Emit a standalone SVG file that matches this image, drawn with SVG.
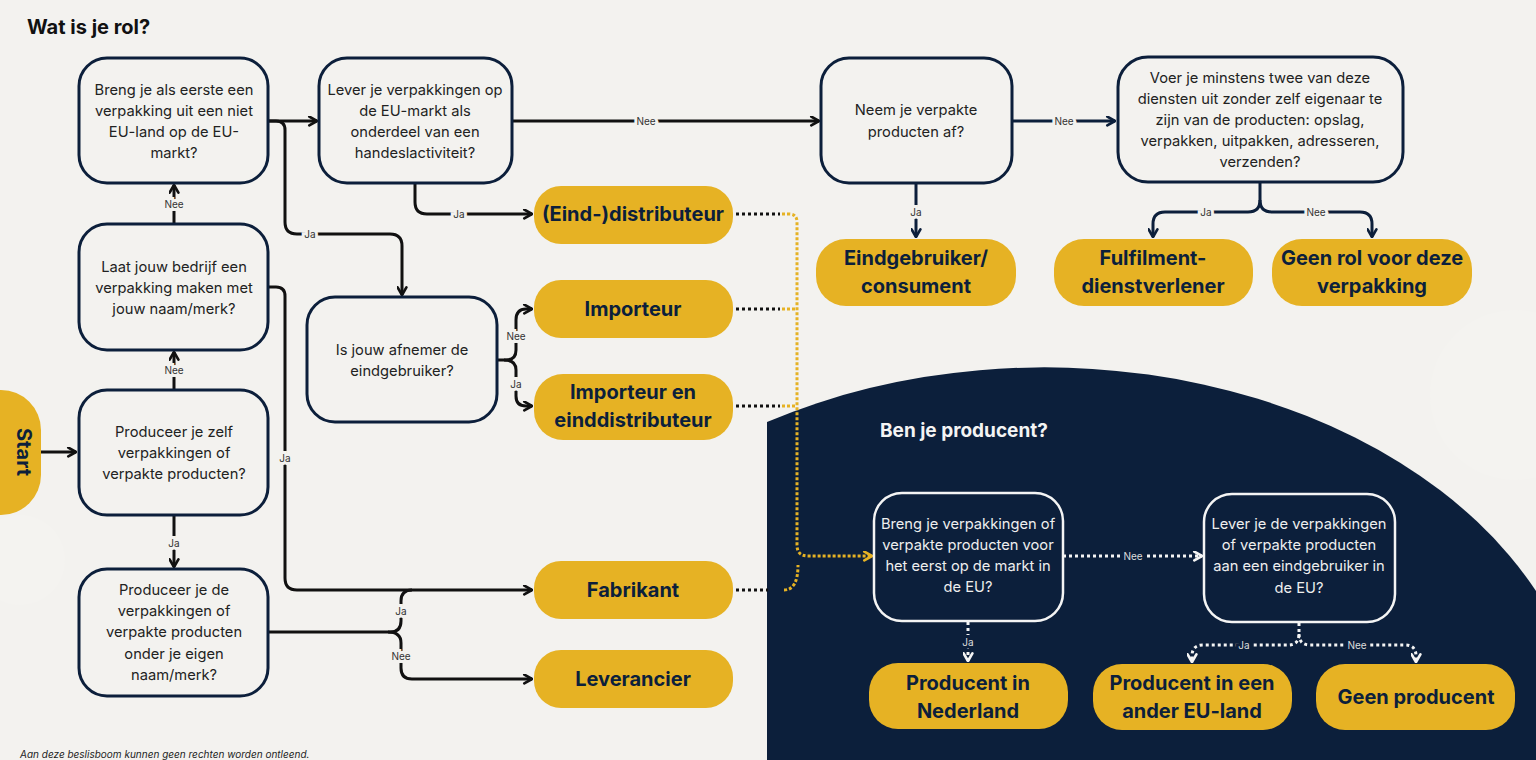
<svg xmlns="http://www.w3.org/2000/svg" width="1536" height="760" viewBox="0 0 1536 760">
<style>
text{font-family:Inter,"Noto Sans","Liberation Sans",sans-serif;}
.q{fill:#f3f2ef;stroke:#0c1f3b;stroke-width:3;}
.qd{fill:#0c1f3b;stroke:#f4f4f4;stroke-width:2.5;}
.qt{font-size:14.7px;fill:#222;text-anchor:middle;dominant-baseline:central;}
.qtd{font-size:14.7px;fill:#eeeeee;text-anchor:middle;dominant-baseline:central;}
.p{fill:#e6b224;}
.pt{font-size:20px;font-weight:700;fill:#0c1f3b;text-anchor:middle;dominant-baseline:central;}
.c{fill:none;stroke:#111;stroke-width:3;}
.cn{fill:none;stroke:#0c1f3b;stroke-width:3;}
.dk{fill:none;stroke:#111;stroke-width:3;stroke-dasharray:3 3;}
.dy{fill:none;stroke:#e6b224;stroke-width:3;stroke-dasharray:3 2;}
.dw{fill:none;stroke:#f4f4f4;stroke-width:3;stroke-dasharray:3 3;}
.l{font-size:10px;fill:#333;text-anchor:middle;dominant-baseline:central;paint-order:stroke;stroke:#f3f2ef;stroke-width:6px;}
.ld{font-size:10px;fill:#dddddd;text-anchor:middle;dominant-baseline:central;paint-order:stroke;stroke:#0c1f3b;stroke-width:6px;}
</style>
<defs>
<marker id="ak" viewBox="0 0 10 10" refX="9" refY="5" markerWidth="11" markerHeight="11" markerUnits="userSpaceOnUse" orient="auto"><path d="M2,1 L9,5 L2,9" fill="none" stroke="#111" stroke-width="2.4" stroke-linecap="round" stroke-linejoin="round"/></marker>
<marker id="an" viewBox="0 0 10 10" refX="9" refY="5" markerWidth="11" markerHeight="11" markerUnits="userSpaceOnUse" orient="auto"><path d="M2,1 L9,5 L2,9" fill="none" stroke="#0c1f3b" stroke-width="2.4" stroke-linecap="round" stroke-linejoin="round"/></marker>
<marker id="ay" viewBox="0 0 10 10" refX="9" refY="5" markerWidth="11" markerHeight="11" markerUnits="userSpaceOnUse" orient="auto"><path d="M2,1 L9,5 L2,9" fill="none" stroke="#e6b224" stroke-width="2.4" stroke-linecap="round" stroke-linejoin="round"/></marker>
<marker id="aw" viewBox="0 0 10 10" refX="9" refY="5" markerWidth="11" markerHeight="11" markerUnits="userSpaceOnUse" orient="auto"><path d="M2,1 L9,5 L2,9" fill="none" stroke="#f4f4f4" stroke-width="2.4" stroke-linecap="round" stroke-linejoin="round"/></marker>
</defs>

<rect x="0" y="0" width="1536" height="760" fill="#f3f2ef"/>
<circle cx="1515" cy="395" r="85" fill="#f4f3f0"/>
<circle cx="20" cy="560" r="45" fill="#f4f3f0"/>
<path d="M767,422 A545,393 0 0 1 1536,591 L1536,760 L767,760 Z" fill="#0c1f3b"/>

<text x="27" y="27" font-size="20" font-weight="700" fill="#111" dominant-baseline="central">Wat is je rol?</text>
<text x="20" y="754" font-size="10" font-style="italic" fill="#222" dominant-baseline="central">Aan deze beslisboom kunnen geen rechten worden ontleend.</text>
<text x="880" y="430" font-size="19" font-weight="700" fill="#f4f4f4" dominant-baseline="central">Ben je producent?</text>

<g id="connectors">
<path class="c" d="M41,452 H76" marker-end="url(#ak)"/>
<path class="c" d="M174,390 V352" marker-end="url(#ak)"/>
<path class="c" d="M174,224 V185" marker-end="url(#ak)"/>
<path class="c" d="M174,515 V567" marker-end="url(#ak)"/>
<path class="c" d="M268,121 H317" marker-end="url(#ak)"/>
<path class="c" d="M268,121 H276 Q285,121 285,130 V222 Q285,234 297,234 H390 Q402,234 402,246 V295" marker-end="url(#ak)"/>
<path class="c" d="M512,121 H819" marker-end="url(#ak)"/>
<path class="c" d="M415,183 V202 Q415,214 427,214 H532" marker-end="url(#ak)"/>
<path class="c" d="M268,287 H276 Q285,287 285,296 V578 Q285,590 297,590 H532" marker-end="url(#ak)"/>
<path class="c" d="M268,632 H390 Q401,632 401,621 V601 Q401,590 412,590"/>
<path class="c" d="M388,632 Q401,632 401,643 V668 Q401,679 412,679 H532" marker-end="url(#ak)"/>
<path class="c" d="M497,360 H506 Q516,360 516,350 V320 Q516,309 526,309 H532" marker-end="url(#ak)"/>
<path class="c" d="M504,360 Q516,360 516,370 V396 Q516,406 526,406 H532" marker-end="url(#ak)"/>
<path class="cn" d="M1012,121 H1115" marker-end="url(#an)"/>
<path class="cn" d="M916,183 V237" marker-end="url(#an)"/>
<path class="cn" d="M1260,182 V200 Q1260,212 1248,212 H1165 Q1153,212 1153,224 V237" marker-end="url(#an)"/>
<path class="cn" d="M1260,200 Q1260,212 1272,212 H1360 Q1372,212 1372,224 V237" marker-end="url(#an)"/>
<path class="dk" d="M736,214 H780"/>
<path class="dk" d="M736,309 H780"/>
<path class="dk" d="M736,406 H780"/>
<path class="dk" d="M736,590 H768"/>
<path class="dy" d="M782,214 H789 Q797,214 797,222 V545 Q797,556 808,556 H872" marker-end="url(#ay)"/>
<path class="dy" d="M782,309 H797"/>
<path class="dy" d="M782,406 H797"/>
<path class="dy" d="M784,590 Q798,590 798,565"/>
<path class="dw" d="M1063,556 H1202" marker-end="url(#aw)"/>
<path class="dw" d="M968,622 V661" marker-end="url(#aw)"/>
<path class="dw" d="M1299,623 V634 Q1299,645 1288,645 H1203 Q1192,645 1192,656 V662" marker-end="url(#aw)"/>
<path class="dw" d="M1299,634 Q1299,645 1310,645 H1405 Q1416,645 1416,656 V662" marker-end="url(#aw)"/>
<text class="l" x="174" y="370">Nee</text>
<text class="l" x="174" y="204">Nee</text>
<text class="l" x="174" y="543">Ja</text>
<text class="l" x="310" y="234">Ja</text>
<text class="l" x="646" y="121">Nee</text>
<text class="l" x="459" y="214">Ja</text>
<text class="l" x="285" y="458">Ja</text>
<text class="l" x="401" y="611">Ja</text>
<text class="l" x="401" y="656">Nee</text>
<text class="l" x="516" y="336">Nee</text>
<text class="l" x="516" y="384">Ja</text>
<text class="l" x="1064" y="121">Nee</text>
<text class="l" x="916" y="212">Ja</text>
<text class="l" x="1206" y="212">Ja</text>
<text class="l" x="1316" y="212">Nee</text>
<text class="ld" x="1133" y="556">Nee</text>
<text class="ld" x="968" y="642">Ja</text>
<text class="ld" x="1244" y="645">Ja</text>
<text class="ld" x="1357" y="645">Nee</text>
</g>

<g id="start">
<rect class="p" x="-60" y="390" width="101" height="125" rx="40"/>
<text class="pt" x="24" y="452" transform="rotate(90 24 452)">Start</text>
</g>

<g id="q-eerste-eu">
<rect class="q" x="79" y="58" width="189" height="125" rx="28"/>
<text class="qt" x="174" y="90">Breng je als eerste een</text>
<text class="qt" x="174" y="111">verpakking uit een niet</text>
<text class="qt" x="174" y="132">EU-land op de EU-</text>
<text class="qt" x="174" y="153">markt?</text>
</g>
<g id="q-handel">
<rect class="q" x="319" y="58" width="193" height="125" rx="28"/>
<text class="qt" x="415" y="90">Lever je verpakkingen op</text>
<text class="qt" x="415" y="111">de EU-markt als</text>
<text class="qt" x="415" y="132">onderdeel van een</text>
<text class="qt" x="415" y="153">handeslactiviteit?</text>
</g>
<g id="q-afnemen">
<rect class="q" x="821" y="58" width="191" height="125" rx="28"/>
<text class="qt" x="916" y="110">Neem je verpakte</text>
<text class="qt" x="916" y="132">producten af?</text>
</g>
<g id="q-diensten">
<rect class="q" x="1118" y="57" width="285" height="125" rx="30"/>
<text class="qt" x="1260" y="78">Voer je minstens twee van deze</text>
<text class="qt" x="1260" y="99">diensten uit zonder zelf eigenaar te</text>
<text class="qt" x="1260" y="120">zijn van de producten: opslag,</text>
<text class="qt" x="1260" y="141">verpakken, uitpakken, adresseren,</text>
<text class="qt" x="1260" y="162">verzenden?</text>
</g>
<g id="q-laat-maken">
<rect class="q" x="79" y="224" width="189" height="126" rx="28"/>
<text class="qt" x="174" y="267">Laat jouw bedrijf een</text>
<text class="qt" x="174" y="288">verpakking maken met</text>
<text class="qt" x="174" y="309">jouw naam/merk?</text>
</g>
<g id="q-zelf">
<rect class="q" x="79" y="390" width="189" height="125" rx="28"/>
<text class="qt" x="174" y="432">Produceer je zelf</text>
<text class="qt" x="174" y="453">verpakkingen of</text>
<text class="qt" x="174" y="474">verpakte producten?</text>
</g>
<g id="q-eigen-naam">
<rect class="q" x="79" y="569" width="189" height="127" rx="28"/>
<text class="qt" x="174" y="590">Produceer je de</text>
<text class="qt" x="174" y="611">verpakkingen of</text>
<text class="qt" x="174" y="632">verpakte producten</text>
<text class="qt" x="174" y="654">onder je eigen</text>
<text class="qt" x="174" y="675">naam/merk?</text>
</g>
<g id="q-afnemer">
<rect class="q" x="307" y="297" width="190" height="125" rx="28"/>
<text class="qt" x="402" y="350">Is jouw afnemer de</text>
<text class="qt" x="402" y="371">eindgebruiker?</text>
</g>

<g id="r-distributeur">
<rect class="p" x="534" y="186" width="199" height="58" rx="27"/>
<text class="pt" x="633" y="214">(Eind-)distributeur</text>
</g>
<g id="r-importeur">
<rect class="p" x="534" y="280" width="199" height="58" rx="27"/>
<text class="pt" x="633" y="309">Importeur</text>
</g>
<g id="r-importeur-einddistributeur">
<rect class="p" x="534" y="374" width="199" height="66" rx="29"/>
<text class="pt" x="633" y="392">Importeur en</text>
<text class="pt" x="633" y="420">einddistributeur</text>
</g>
<g id="r-fabrikant">
<rect class="p" x="534" y="561" width="199" height="58" rx="27"/>
<text class="pt" x="633" y="590">Fabrikant</text>
</g>
<g id="r-leverancier">
<rect class="p" x="534" y="650" width="199" height="58" rx="27"/>
<text class="pt" x="633" y="679">Leverancier</text>
</g>
<g id="r-eindgebruiker">
<rect class="p" x="816" y="239" width="200" height="67" rx="30"/>
<text class="pt" x="916" y="258">Eindgebruiker/</text>
<text class="pt" x="916" y="286">consument</text>
</g>
<g id="r-fulfilment">
<rect class="p" x="1054" y="239" width="199" height="67" rx="30"/>
<text class="pt" x="1153" y="258">Fulfilment-</text>
<text class="pt" x="1153" y="286">dienstverlener</text>
</g>
<g id="r-geen-rol">
<rect class="p" x="1272" y="239" width="200" height="67" rx="30"/>
<text class="pt" x="1372" y="258">Geen rol voor deze</text>
<text class="pt" x="1372" y="286">verpakking</text>
</g>

<g id="q-eerst-op-markt">
<rect class="qd" x="874" y="493" width="189" height="128" rx="28"/>
<text class="qtd" x="968" y="524">Breng je verpakkingen of</text>
<text class="qtd" x="968" y="545">verpakte producten voor</text>
<text class="qtd" x="968" y="566">het eerst op de markt in</text>
<text class="qtd" x="968" y="587">de EU?</text>
</g>
<g id="q-eindgebruiker-eu">
<rect class="qd" x="1204" y="494" width="191" height="128" rx="28"/>
<text class="qtd" x="1299" y="524">Lever je de verpakkingen</text>
<text class="qtd" x="1299" y="545">of verpakte producten</text>
<text class="qtd" x="1299" y="566">aan een eindgebruiker in</text>
<text class="qtd" x="1299" y="588">de EU?</text>
</g>
<g id="r-producent-nl">
<rect class="p" x="869" y="663" width="199" height="66" rx="29"/>
<text class="pt" x="968" y="683">Producent in</text>
<text class="pt" x="968" y="711">Nederland</text>
</g>
<g id="r-producent-eu">
<rect class="p" x="1093" y="664" width="199" height="66" rx="29"/>
<text class="pt" x="1192" y="683">Producent in een</text>
<text class="pt" x="1192" y="711">ander EU-land</text>
</g>
<g id="r-geen-producent">
<rect class="p" x="1316" y="664" width="199" height="66" rx="29"/>
<text class="pt" x="1416" y="697">Geen producent</text>
</g>
</svg>
